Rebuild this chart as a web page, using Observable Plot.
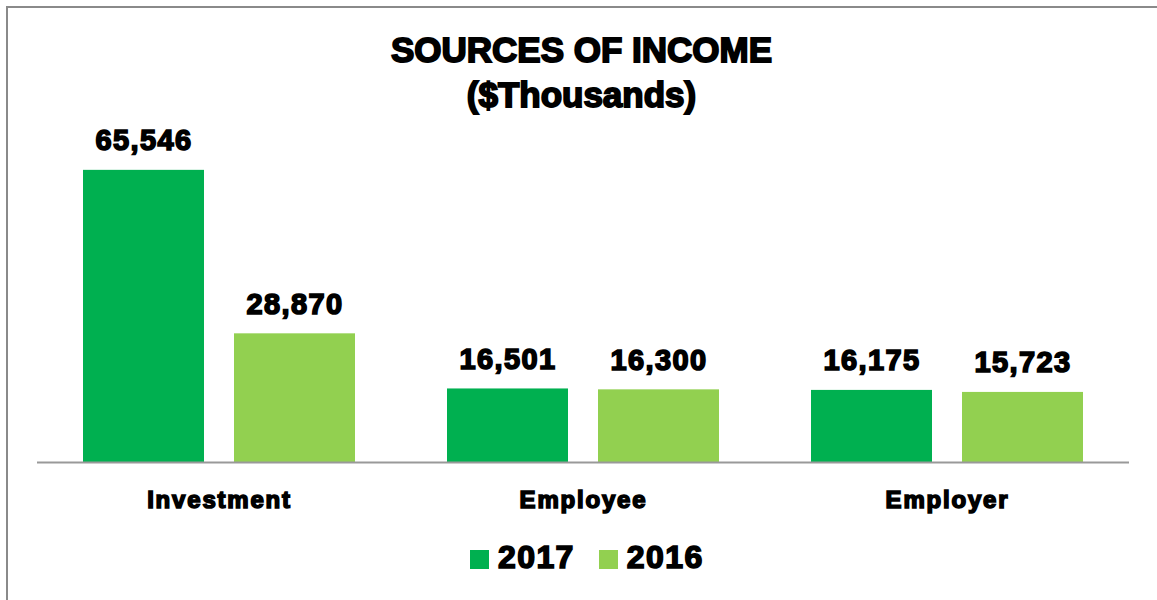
<!DOCTYPE html>
<html><head><meta charset="utf-8">
<script src="https://cdn.jsdelivr.net/npm/d3@7"></script>
<script src="https://cdn.jsdelivr.net/npm/@observablehq/plot@0.6"></script>
<style>
html,body{margin:0;padding:0;background:#fff;overflow:hidden;width:1157px;height:600px;position:relative;}
#frame{position:absolute;left:6px;top:6px;width:1300px;height:800px;border-left:2px solid #8a8a8a;border-top:2px solid #8a8a8a;box-sizing:border-box;}
.ttl{position:absolute;left:0;width:1163px;text-align:center;font-family:"Liberation Sans",Arial,sans-serif;font-weight:bold;font-size:35px;color:#000;-webkit-text-stroke:1.8px #000;line-height:45px;white-space:nowrap;}
#chart{position:absolute;left:0;top:120px;}
#chart svg text{font-family:"Liberation Sans",Arial,sans-serif;stroke:#000;stroke-width:1.6px;letter-spacing:1.4px;}
#chart svg g[aria-label="fx-axis tick label"] text{letter-spacing:1.8px;}
#legend{position:absolute;left:470px;top:541px;display:flex;align-items:flex-start;font-family:"Liberation Sans",Arial,sans-serif;font-weight:bold;font-size:32px;line-height:32px;color:#000;-webkit-text-stroke:1.6px #000;letter-spacing:1.4px;}
#legend .sw{width:19px;height:19px;margin-top:9px;margin-right:9px;}
#legend .it{display:flex;align-items:flex-start;margin-right:24px;}
</style>
</head><body>
<div id="frame"></div>
<div class="ttl" style="top:27px">SOURCES OF INCOME</div>
<div class="ttl" style="top:72px">($Thousands)</div>
<div id="chart"></div>
<div id="legend"></div>
<script>
const categories = ["Investment", "Employee", "Employer"];
const years = ["2017", "2016"];
const values2017 = [65546, 16501, 16175];
const values2016 = [28870, 16300, 15723];
const colors = ["#00B050", "#92D050"];

const data = categories.flatMap((c, i) => [
  {category: c, year: years[0], value: values2017[i]},
  {category: c, year: years[1], value: values2016[i]}
]);
const fmt = d3.format(",");

const chart = Plot.plot({
  width: 1157,
  height: 410,
  marginTop: 30,
  marginBottom: 68,
  marginLeft: 36,
  marginRight: 28,
  fx: {domain: categories, padding: 0, label: null},
  x: {domain: years, paddingInner: 0.197, paddingOuter: 0.296, axis: null},
  y: {domain: [0, 70000], axis: null},
  color: {domain: years, range: colors},
  marks: [
    Plot.barY(data, {fx: "category", x: "year", y: "value", fill: "year"}),
    Plot.text(data, {fx: "category", x: "year", y: "value", text: d => fmt(d.value), dy: -20, lineAnchor: "bottom", fontSize: 29, fontWeight: "bold", fill: "#000"}),
    Plot.axisFx({anchor: "bottom", tickSize: 0, tickPadding: 28, fontSize: 24, fontWeight: "bold", label: null, fill: "#000"}),
    Plot.ruleY([0], {stroke: "#999", strokeWidth: 2})
  ]
});
document.getElementById("chart").appendChild(chart);

const legend = document.getElementById("legend");
years.forEach((y, i) => {
  const it = document.createElement("div");
  it.className = "it";
  const sw = document.createElement("div");
  sw.className = "sw";
  sw.style.background = colors[i];
  const t = document.createElement("span");
  t.textContent = y;
  it.appendChild(sw);
  it.appendChild(t);
  legend.appendChild(it);
});
</script>
</body></html>
